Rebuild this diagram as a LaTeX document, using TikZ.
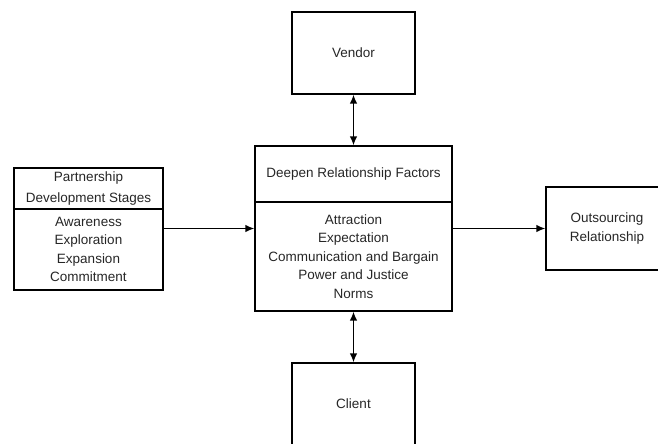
\documentclass[tikz,border=0pt]{standalone}
\usepackage{fontspec}
\setmainfont{Liberation Sans}
\usetikzlibrary{positioning, arrows.meta}

\tikzset{
    box/.style={draw, line width=1.2pt, inner sep=0pt, align=center, text=black!85,
        font=\fontsize{13.5}{18.5}\selectfont},
    link/.style={line width=1.5pt, -{Latex[length=9pt,width=7.5pt]}},
    duplex/.style={line width=1.5pt, {Latex[length=9pt,width=7.5pt]}-{Latex[length=9pt,width=7.5pt]}}
}

\begin{document}
\begin{tikzpicture}[x=1pt, y=-1pt]
    \useasboundingbox (0,0) rectangle (658,444);
    \clip (0,0) rectangle (658,444);
    % boxes
    \node[box, minimum width=123pt, minimum height=82pt] (vendor) at (353.5,53) {Vendor};
    \node[box, minimum width=197pt, minimum height=56pt] (factors) at (353.5,174) {Deepen Relationship Factors};
    \node[box, minimum width=197pt, minimum height=109pt] (factorlist) at (353.5,256.5)
        {Attraction\\Expectation\\Communication and Bargain\\Power and Justice\\Norms};
    \node[box, minimum width=149pt, minimum height=41pt] (stages) at (88.5,188.5)
        {Partnership\\[2pt]Development Stages};
    \node[box, minimum width=149pt, minimum height=81pt] (stagelist) at (88.5,249.5)
        {Awareness\\Exploration\\Expansion\\Commitment};
    \node[box, minimum width=122pt, minimum height=83pt] (outsrc) at (607,228.5)
        {Outsourcing\\Relationship};
    \node[box, minimum width=123pt, minimum height=82pt] (client) at (353.5,404) {Client};
    % connectors
    \draw[duplex] (vendor.south) -- (factors.north);
    \draw[duplex] (factorlist.south) -- (client.north);
    \draw[link] (stagelist.east |- outsrc.west) -- (factorlist.west |- outsrc.west);
    \draw[link] (factorlist.east |- outsrc.west) -- (outsrc.west);
\end{tikzpicture}
\end{document}
